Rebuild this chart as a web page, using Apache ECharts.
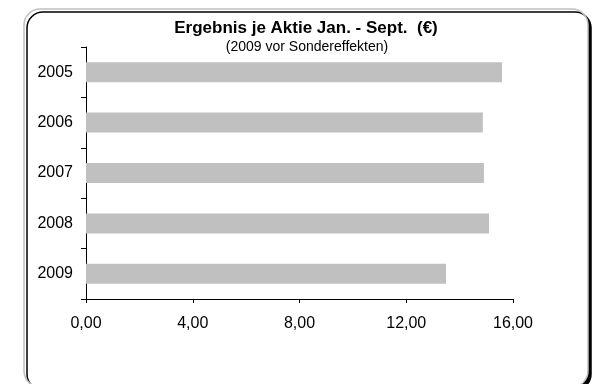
<!DOCTYPE html>
<html>
<head>
<meta charset="utf-8">
<script src="https://cdn.jsdelivr.net/npm/echarts@6/dist/echarts.min.js"></script>
<style>
html,body{margin:0;padding:0;background:#fff;}
#c{width:594px;height:384px;}
</style>
</head>
<body>
<div id="c"></div>
<script>
var titleText = 'Ergebnis je Aktie Jan. - Sept.  (€)';
var subtitleText = '(2009 vor Sondereffekten)';
var categories = ['2005', '2006', '2007', '2008', '2009'];
var values = [15.59, 14.87, 14.91, 15.10, 13.49];
var xMin = 0, xMax = 16, xInterval = 4;

var chart = echarts.init(document.getElementById('c'), null, {renderer: 'canvas'});
var font = '"Liberation Sans", Arial, sans-serif';
chart.setOption({
  animation: false,
  backgroundColor: '#ffffff',
  graphic: [
    {
      type: 'rect', z: -10,
      shape: {x: 24, y: 9, width: 564, height: 378, r: 16},
      style: {fill: '#ffffff', stroke: '#c0c0c0', lineWidth: 1.5,
              shadowColor: '#000000', shadowOffsetX: 3, shadowOffsetY: 3, shadowBlur: 0}
    },
    {
      type: 'text', z: 10, x: 306, y: 28,
      style: {text: titleText, x: 0, y: 0, textAlign: 'center', textVerticalAlign: 'middle',
              font: 'bold 17px ' + font, fill: '#000'}
    },
    {
      type: 'text', z: 10, x: 307, y: 47,
      style: {text: subtitleText, x: 0, y: 0, textAlign: 'center', textVerticalAlign: 'middle',
              font: '14px ' + font, fill: '#000'}
    }
  ],
  grid: {left: 86, right: 81, top: 47, bottom: 85, containLabel: false},
  xAxis: {
    type: 'value', min: xMin, max: xMax, interval: xInterval,
    axisLine: {show: true, lineStyle: {color: '#000', width: 1}},
    axisTick: {show: true, length: 4, lineStyle: {color: '#000'}},
    splitLine: {show: false},
    axisLabel: {fontSize: 16, color: '#000', fontFamily: font, margin: 17,
      formatter: function (v) { return v.toFixed(2).replace('.', ','); }}
  },
  yAxis: {
    type: 'category', data: categories, inverse: true,
    axisLine: {show: true, lineStyle: {color: '#000', width: 1}},
    axisTick: {show: true, length: 5, alignWithLabel: false, lineStyle: {color: '#000'}},
    axisLabel: {fontSize: 16, color: '#000', fontFamily: font, margin: 13}
  },
  series: [{
    type: 'bar', data: values, barWidth: 20,
    itemStyle: {color: '#c0c0c0'}
  }]
});
</script>
</body>
</html>
